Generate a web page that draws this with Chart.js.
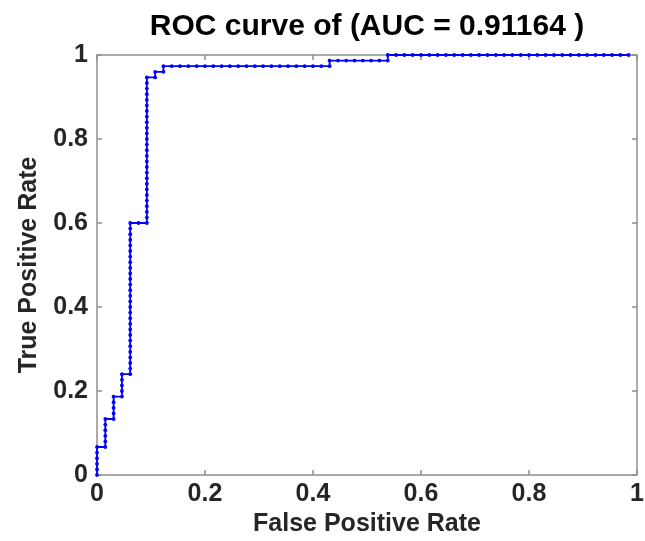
<!DOCTYPE html>
<html>
<head>
<meta charset="utf-8">
<title>ROC curve</title>
<script src="https://cdn.jsdelivr.net/npm/chart.js@4/dist/chart.umd.min.js"></script>
<style>
  html, body { margin: 0; padding: 0; background: #fff; }
  #wrap { width: 645px; height: 541px; }
</style>
</head>
<body>
<div id="wrap"><canvas id="rocChart" width="645" height="541"></canvas></div>
<script>

// counts (75 positives, 65 negatives)
var nPos = 75;
var nNeg = 65;

var fpCounts = [
  0, 0, 0, 0, 0, 0,
  1, 1, 1, 1, 1, 1,
  2, 2, 2, 2, 2,
  3, 3, 3, 3, 3,
  4, 4, 4, 4, 4, 4, 4, 4, 4, 4, 4, 4, 4, 4, 4, 4, 4, 4, 4, 4, 4, 4, 4, 4, 4, 4, 4, 4,
  5,
  6, 6, 6, 6, 6, 6, 6, 6, 6, 6, 6, 6, 6, 6, 6, 6, 6, 6, 6, 6, 6, 6, 6, 6, 6, 6, 6,
  7, 7,
  8, 8,
  9, 10, 11, 12, 13, 14, 15, 16, 17, 18, 19, 20, 21, 22, 23, 24, 25, 26, 27, 28,
  28, 29, 30, 31, 32, 33, 34, 35,
  35, 36, 37, 38, 39, 40, 41, 42, 43, 44, 45, 46, 47, 48, 49, 50, 51, 52, 53, 54,
  55, 56, 57, 58, 59, 60, 61, 62, 63, 64
];

var tpCounts = [
  0, 1, 2, 3, 4, 5,
  5, 6, 7, 8, 9, 10,
  10, 11, 12, 13, 14,
  14, 15, 16, 17, 18,
  18, 19, 20, 21, 22, 23, 24, 25, 26, 27, 28, 29, 30, 31, 32, 33, 34, 35, 36, 37, 38, 39, 40, 41, 42, 43, 44, 45,
  45,
  45, 46, 47, 48, 49, 50, 51, 52, 53, 54, 55, 56, 57, 58, 59, 60, 61, 62, 63, 64, 65, 66, 67, 68, 69, 70, 71,
  71, 72,
  72, 73,
  73, 73, 73, 73, 73, 73, 73, 73, 73, 73, 73, 73, 73, 73, 73, 73, 73, 73, 73, 73,
  74, 74, 74, 74, 74, 74, 74, 74,
  75, 75, 75, 75, 75, 75, 75, 75, 75, 75, 75, 75, 75, 75, 75, 75, 75, 75, 75, 75,
  75, 75, 75, 75, 75, 75, 75, 75, 75, 75
];

var tickValues = [0, 0.2, 0.4, 0.6, 0.8, 1];
var titleText = 'ROC curve of (AUC = 0.91164 )';
var xLabel = 'False Positive Rate';
var yLabel = 'True Positive Rate';

var fontFamily = '"Liberation Sans", Arial, Helvetica, sans-serif';

var rocPoints = [];
for (var i = 0; i < fpCounts.length; i++) {
  rocPoints.push({ x: fpCounts[i] / nNeg, y: tpCounts[i] / nPos });
}

function tickText(v) {
  return String(Number(v.toFixed(1)));
}

// matlab style box with inward ticks + the title
var axesBox = {
  id: 'axesBox',
  beforeDatasetsDraw: function(chart) {
    var ctx = chart.ctx;
    var a = chart.chartArea;
    var xs = chart.scales.x;
    var ys = chart.scales.y;
    var tl = 5;
    ctx.save();
    ctx.strokeStyle = '#8f8f8f';
    ctx.lineWidth = 1.5;
    ctx.strokeRect(a.left, a.top, a.right - a.left, a.bottom - a.top);
    ctx.beginPath();
    tickValues.forEach(function(v) {
      var px = xs.getPixelForValue(v);
      ctx.moveTo(px, a.bottom); ctx.lineTo(px, a.bottom - tl);
      ctx.moveTo(px, a.top); ctx.lineTo(px, a.top + tl);
      var py = ys.getPixelForValue(v);
      ctx.moveTo(a.left, py); ctx.lineTo(a.left + tl, py);
      ctx.moveTo(a.right, py); ctx.lineTo(a.right - tl, py);
    });
    ctx.stroke();
    ctx.restore();
  },
  afterDraw: function(chart) {
    var ctx = chart.ctx;
    var a = chart.chartArea;
    ctx.save();
    ctx.fillStyle = '#000';
    ctx.font = 'bold 30px ' + fontFamily;
    ctx.textAlign = 'center';
    ctx.textBaseline = 'middle';
    ctx.fillText(titleText, (a.left + a.right) / 2, 27);
    ctx.restore();
  }
};

var ctx = document.getElementById('rocChart').getContext('2d');
var rocChart = new Chart(ctx, {
  type: 'scatter',
  data: {
    datasets: [{
      data: rocPoints,
      showLine: true,
      borderColor: '#0000ff',
      backgroundColor: '#0000ff',
      borderWidth: 1.8,
      pointRadius: 1.9,
      pointBorderWidth: 0,
      pointHoverRadius: 1.9,
      clip: false
    }]
  },
  options: {
    responsive: false,
    animation: false,
    layout: { padding: { top: 55, right: 8, bottom: 0, left: 0 } },
    plugins: {
      legend: { display: false },
      tooltip: { enabled: false },
      title: { display: false }
    },
    scales: {
      x: {
        type: 'linear',
        min: 0,
        max: 1,
        grid: { display: false, drawTicks: false },
        border: { display: false },
        afterBuildTicks: function(scale) {
          scale.ticks = tickValues.map(function(v) { return { value: v }; });
        },
        ticks: {
          padding: 4,
          color: '#262626',
          font: { family: fontFamily, size: 25, weight: 'bold' },
          maxRotation: 0,
          callback: function(v) { return tickText(v); }
        },
        title: {
          display: true,
          text: xLabel,
          color: '#262626',
          padding: { top: 0, bottom: 2 },
          font: { family: fontFamily, size: 25, weight: 'bold' }
        },
        afterFit: function(scale) {
          scale.height = 66;
          scale.paddingLeft = 0;
          scale.paddingRight = 0;
        }
      },
      y: {
        type: 'linear',
        min: 0,
        max: 1,
        grid: { display: false, drawTicks: false },
        border: { display: false },
        afterBuildTicks: function(scale) {
          scale.ticks = tickValues.map(function(v) { return { value: v }; });
        },
        ticks: {
          padding: 9,
          color: '#262626',
          font: { family: fontFamily, size: 25, weight: 'bold' },
          callback: function(v) { return tickText(v); }
        },
        title: {
          display: true,
          text: yLabel,
          color: '#262626',
          padding: { top: 14, bottom: 0 },
          font: { family: fontFamily, size: 25, weight: 'bold' }
        },
        afterFit: function(scale) {
          scale.width = 97;
          scale.paddingTop = 0;
          scale.paddingBottom = 0;
        }
      }
    }
  },
  plugins: [axesBox]
});

</script>
</body>
</html>
